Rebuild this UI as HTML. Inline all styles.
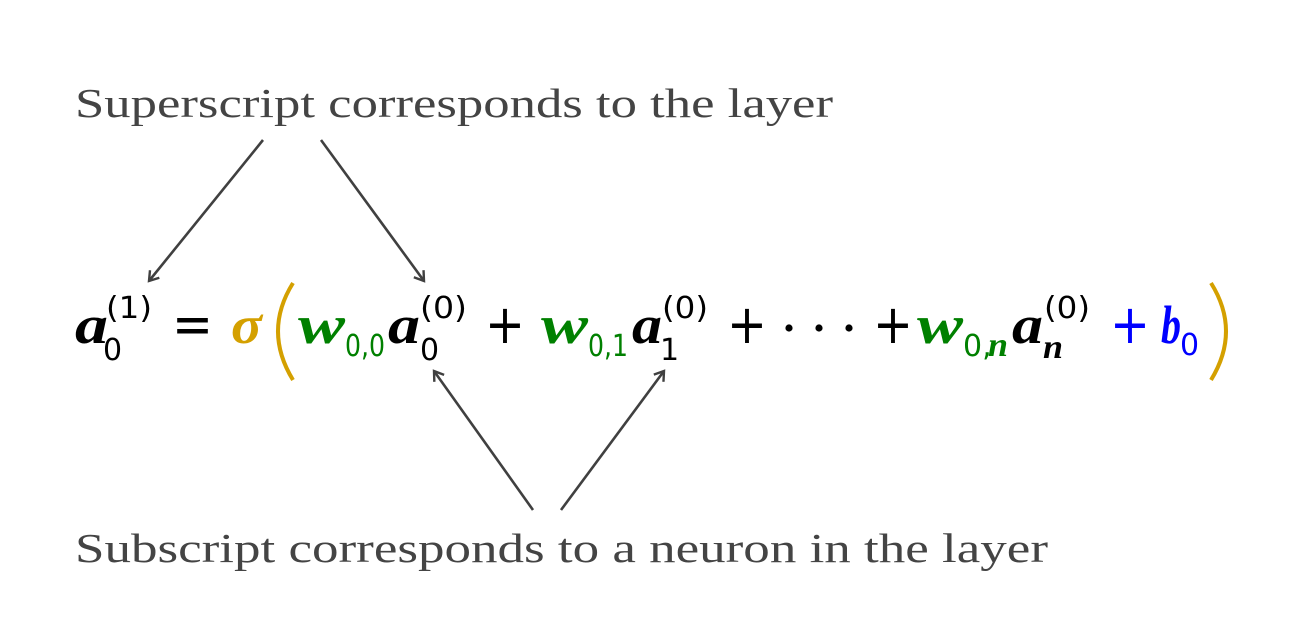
<!DOCTYPE html>
<html><head><meta charset="utf-8"><style>html,body{margin:0;padding:0;background:#fff}</style></head><body>
<svg width="1303" height="637" viewBox="0 0 1303 637" xmlns="http://www.w3.org/2000/svg">
<defs><marker id="ah" markerWidth="14" markerHeight="14" refX="11" refY="7" orient="auto" markerUnits="userSpaceOnUse">
<path d="M2,1 L11,7 L2,13" fill="none" stroke="#404040" stroke-width="2.4"/></marker></defs>
<g font-family="Liberation Serif, serif" fill="#444" font-size="41">
<text x="75" y="117" textLength="758" lengthAdjust="spacingAndGlyphs">Superscript corresponds to the layer</text>
<text x="75" y="562" textLength="973" lengthAdjust="spacingAndGlyphs">Subscript corresponds to a neuron in the layer</text>
</g>
<g stroke="#404040" stroke-width="2.6" fill="none" marker-end="url(#ah)">
<line x1="263" y1="140" x2="149" y2="281"/>
<line x1="321" y1="140" x2="424" y2="281"/>
<line x1="533" y1="510" x2="434" y2="371"/>
<line x1="561" y1="510" x2="664" y2="371"/>
</g>
<g font-family="Liberation Serif, serif" font-size="54" font-weight="bold" font-style="italic">
<text x="75" y="343" fill="#000" textLength="33" lengthAdjust="spacingAndGlyphs">a</text>
<text x="231" y="343" fill="#d4a000" textLength="31" lengthAdjust="spacingAndGlyphs">σ</text>
<text x="298" y="343" fill="#008000" textLength="47" lengthAdjust="spacingAndGlyphs">w</text>
<text x="388" y="343" fill="#000" textLength="32" lengthAdjust="spacingAndGlyphs">a</text>
<text x="541" y="343" fill="#008000" textLength="47" lengthAdjust="spacingAndGlyphs">w</text>
<text x="632" y="343" fill="#000" textLength="30" lengthAdjust="spacingAndGlyphs">a</text>
<text x="917" y="343" fill="#008000" textLength="46" lengthAdjust="spacingAndGlyphs">w</text>
<text x="1012" y="343" fill="#000" textLength="31" lengthAdjust="spacingAndGlyphs">a</text>
<text x="1161" y="343" fill="#0000ff" textLength="20" lengthAdjust="spacingAndGlyphs">b</text>
<text x="988" y="356" fill="#008000" font-size="34" textLength="20" lengthAdjust="spacingAndGlyphs">n</text>
<text x="1043" y="358" fill="#000" font-size="34" textLength="20" lengthAdjust="spacingAndGlyphs">n</text>
</g>
<g font-family="DejaVu Sans, sans-serif" font-size="30">
<text x="103" y="360">0</text>
<text x="106" y="318" textLength="46" lengthAdjust="spacingAndGlyphs">(1)</text>
<text x="345" y="356" fill="#008000" textLength="40" lengthAdjust="spacingAndGlyphs">0,0</text>
<text x="420" y="360">0</text>
<text x="420" y="318" textLength="47" lengthAdjust="spacingAndGlyphs">(0)</text>
<text x="588" y="356" fill="#008000" textLength="40" lengthAdjust="spacingAndGlyphs">0,1</text>
<text x="660" y="360">1</text>
<text x="662" y="318" textLength="46" lengthAdjust="spacingAndGlyphs">(0)</text>
<text x="963" y="356" fill="#008000">0,</text>
<text x="1044" y="318" textLength="46" lengthAdjust="spacingAndGlyphs">(0)</text>
<text x="1180" y="355" fill="#0000ff">0</text>
</g>
<g font-family="DejaVu Sans, sans-serif" font-size="54">
<text x="172" y="343" textLength="41" lengthAdjust="spacingAndGlyphs">=</text>
<text x="485" y="343" textLength="40" lengthAdjust="spacingAndGlyphs">+</text>
<text x="727" y="343" textLength="40" lengthAdjust="spacingAndGlyphs">+</text>
<text x="873" y="343" textLength="40" lengthAdjust="spacingAndGlyphs">+</text>
<text x="1110" y="343" fill="#0000ff" textLength="40" lengthAdjust="spacingAndGlyphs">+</text>
</g>
<circle cx="789" cy="328" r="3.6"/><circle cx="819" cy="328" r="3.6"/><circle cx="849" cy="328" r="3.6"/>
<path d="M293,283 Q263,331 293,380" stroke="#d4a000" stroke-width="4" fill="none"/>
<path d="M1211,283 Q1241,331 1211,380" stroke="#d4a000" stroke-width="4" fill="none"/>
</svg>
</body></html>
